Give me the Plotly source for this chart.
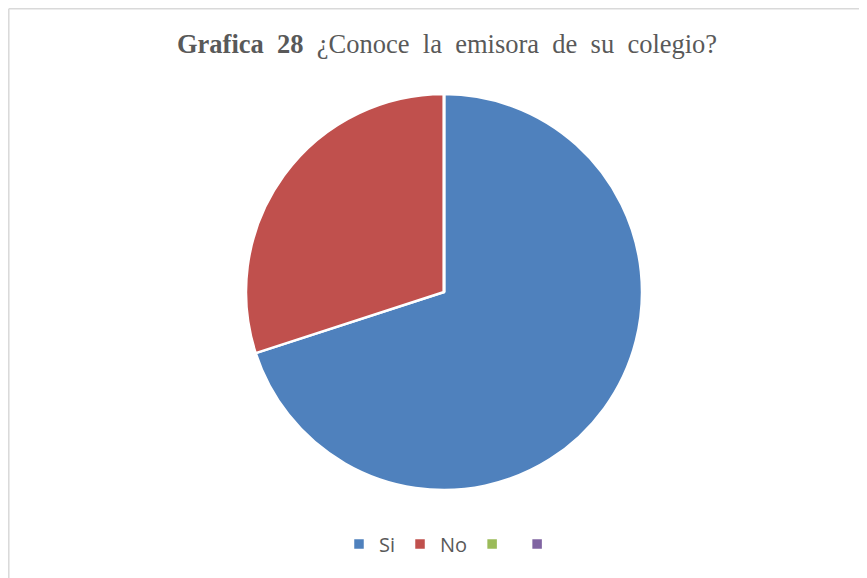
import plotly.graph_objects as go

W, H = 867, 578
# the page body adds an 8px margin, so positions below are shifted up/left by 8px
OFF = 8

labels = ["Si", "No", "\u200b", "\u200b\u200b"]
values = [70, 30, 0, 0]
colors = ["#4F81BD", "#C0504D", "#9BBB59", "#8064A2"]


def px_x(x):
    return (x - OFF) / W


def px_y(y):
    return 1 - (y - OFF) / H


fig = go.Figure(
    go.Pie(
        labels=labels,
        values=values,
        sort=False,
        direction="clockwise",
        rotation=0,
        textinfo="none",
        hoverinfo="label+value+percent",
        marker=dict(colors=colors, line=dict(color="white", width=2.5)),
        domain=dict(x=[px_x(246), px_x(642)], y=[px_y(490), px_y(94)]),
    )
)

sp = "\u2002"
title = f"<b>Grafica{sp}28</b>{sp}¿Conoce{sp}la{sp}emisora{sp}de{sp}su{sp}colegio?"

fig.update_layout(
    width=W,
    height=H,
    margin=dict(l=0, r=0, t=0, b=0, autoexpand=False),
    paper_bgcolor="white",
    showlegend=True,
    legend=dict(
        orientation="h",
        x=px_x(451),
        xanchor="center",
        y=px_y(544),
        yanchor="middle",
        font=dict(family="Open Sans, Liberation Sans, sans-serif", size=20, color="#595959"),
        itemwidth=30,
        traceorder="normal",
    ),
    shapes=[
        dict(type="line", xref="paper", yref="paper", x0=0.8 / W, x1=0.8 / W, y0=0, y1=1 - 0.8 / H,
             line=dict(color="#D9D9D9", width=1.5)),
        dict(type="line", xref="paper", yref="paper", x0=0.8 / W, x1=1, y0=1 - 0.8 / H, y1=1 - 0.8 / H,
             line=dict(color="#D9D9D9", width=1.5)),
    ],
    annotations=[
        dict(
            text=title,
            x=px_x(446.5), xref="paper", xanchor="center",
            y=px_y(44), yref="paper", yanchor="middle",
            showarrow=False,
            font=dict(family="Liberation Serif, Times New Roman, serif", size=26.5, color="#595959"),
        ),
        dict(
            text="180084-2",
            x=0, xref="paper", xanchor="left",
            y=1 - 5 / H, yref="paper", yanchor="bottom",
            showarrow=False,
            font=dict(family="Liberation Sans, sans-serif", size=14, color="#5A7896"),
        ),
    ],
)

fig.write_html("out.html")
